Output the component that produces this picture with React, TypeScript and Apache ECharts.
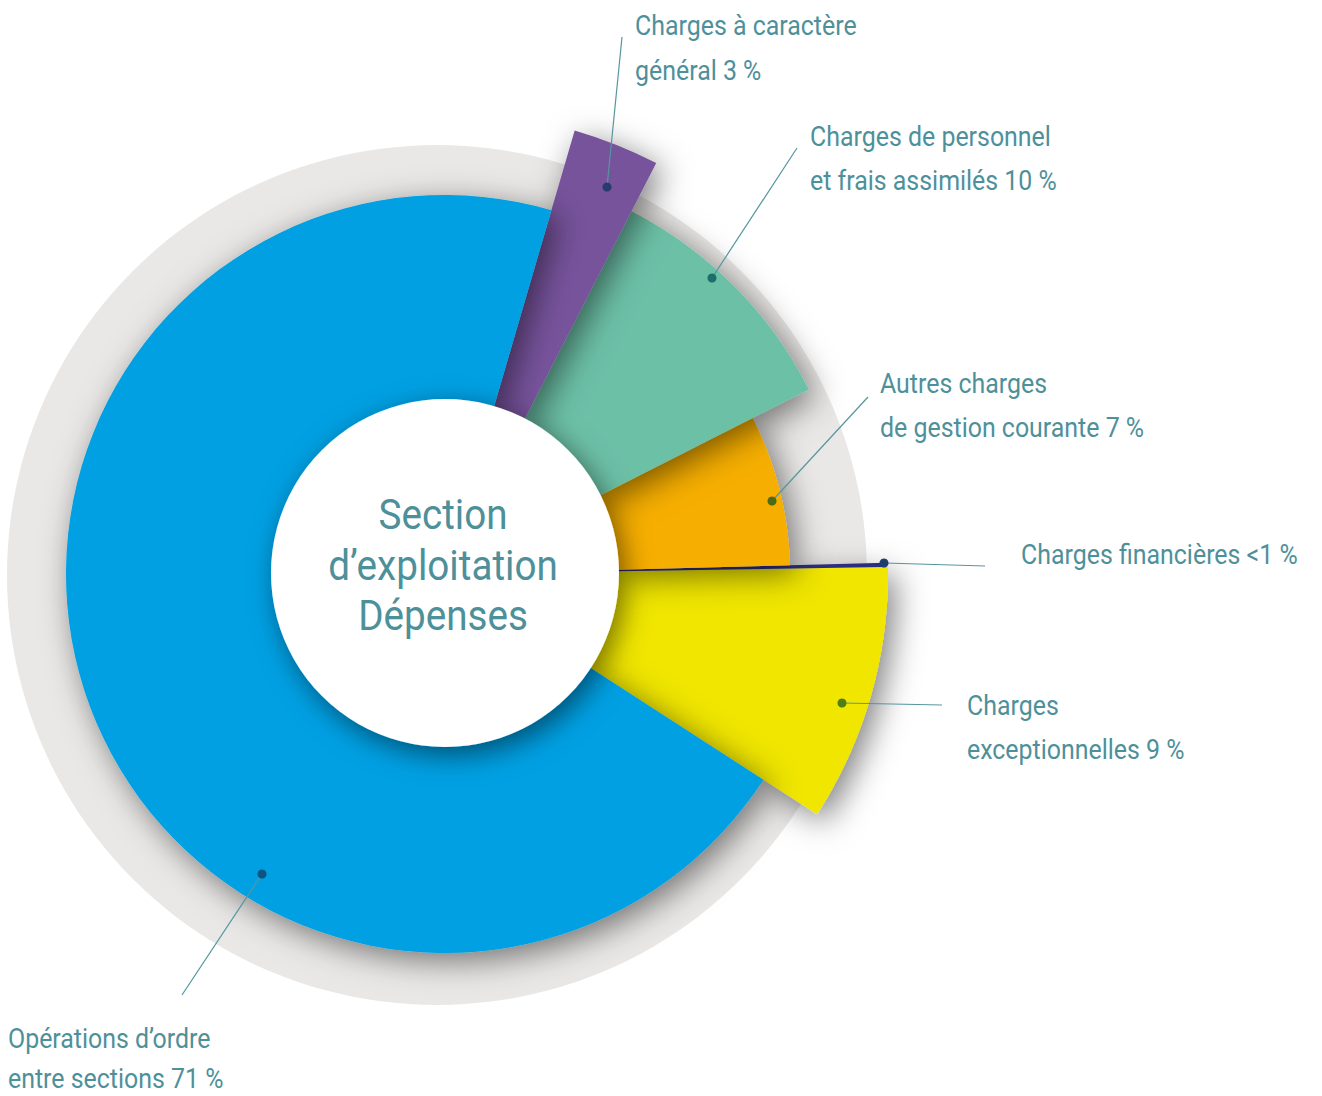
import React, { useEffect, useRef } from "react";
import * as echarts from "echarts";

// ---- data ----
const categories = [
  "Charges à caractère général",
  "Charges de personnel et frais assimilés",
  "Autres charges de gestion courante",
  "Charges financières",
  "Charges exceptionnelles",
  "Opérations d’ordre entre sections",
];
// share of the 360° drawn for each slice (percent)
const shares = [3.03, 9.97, 7.07, 0.15, 9.38, 70.4];
// label texts, as printed
const labelTexts = [
  ["Charges à caractère", "général 3 %"],
  ["Charges de personnel", "et frais assimilés 10 %"],
  ["Autres charges", "de gestion courante 7 %"],
  ["Charges financières <1 %"],
  ["Charges", "exceptionnelles 9 %"],
  ["Opérations d’ordre", "entre sections 71 %"],
];
const centerTitle = ["Section", "d’exploitation", "Dépenses"];

// ---- styles / layout ----
const colors = ["#77529c", "#6cc0a6", "#f6ae00", "#2b2d80", "#f0e600", "#00a0e3"];
const outerRadii = [462, 408, 345, 441, 443, 379];
const drawOrder = [4, 3, 2, 1, 0, 5];
const CENTER = [445, 574];
const INNER = 174;
const textColor = "#4e909a";
const lineColor = "#5596a0";
const dotColors = ["#283a6e", "#1f6e6a", "#4f6a10", "#1e3f6e", "#4f7f10", "#0d5480"];
// annotation layout: dot position, line end, text left, baselines
const labelDots = [[607, 187], [712, 278], [772, 501], [884, 563], [842, 703], [262, 874]];
const labelEnds = [[622, 37], [797, 148], [868, 397], [985, 566], [942, 705], [182, 995]];
const labelX = [635, 810, 880, 1021, 967, 8];
const labelBaselines = [[35, 80], [146, 190], [393, 437], [564], [715, 759], [1048, 1088]];

const FONT = "Roboto, 'Liberation Sans', sans-serif";
const LABEL_SIZE = 28;
const LABEL_SCALE = 0.89;
const TITLE_SIZE = 42;
const TITLE_SCALE = 0.92;

export default function App() {
  const ref = useRef<HTMLDivElement>(null);

  useEffect(() => {
    if (!ref.current) return;
    const chart = echarts.init(ref.current, undefined, { renderer: "svg" });

    const sliceSeries = drawOrder.map((i) => ({
      type: "pie",
      name: categories[i],
      center: CENTER,
      radius: [INNER - 2, outerRadii[i]],
      startAngle: 73.7,
      clockwise: true,
      silent: true,
      avoidLabelOverlap: false,
      label: { show: false },
      labelLine: { show: false },
      emphasis: { disabled: true },
      data: shares.map((v, j) => ({
        value: v,
        name: categories[j],
        itemStyle:
          j === i
            ? i === 3
              ? { color: colors[i], borderWidth: 0 }
              : {
                  color: colors[i],
                  shadowBlur: 32,
                  shadowColor: "rgba(0,0,0,0.5)",
                  shadowOffsetX: 7,
                  shadowOffsetY: 8,
                  borderWidth: 0,
                }
            : { color: "rgba(0,0,0,0)", borderWidth: 0 },
      })),
    }));

    const graphics: any[] = [];
    labelTexts.forEach((lines, i) => {
      graphics.push({
        type: "line",
        z: 100,
        shape: { x1: labelDots[i][0], y1: labelDots[i][1], x2: labelEnds[i][0], y2: labelEnds[i][1] },
        style: { stroke: lineColor, lineWidth: 1.2 },
      });
      graphics.push({
        type: "circle",
        z: 101,
        shape: { cx: labelDots[i][0], cy: labelDots[i][1], r: 4.5 },
        style: { fill: dotColors[i] },
      });
      lines.forEach((t, k) => {
        graphics.push({
          type: "text",
          z: 100,
          x: labelX[i],
          y: labelBaselines[i][k] - 0.342 * LABEL_SIZE,
          scaleX: LABEL_SCALE,
          style: {
            text: t,
            fill: textColor,
            font: `${LABEL_SIZE}px ${FONT}`,
            textAlign: "left",
            textVerticalAlign: "middle",
            verticalAlign: "middle",
          },
        });
      });
    });
    const titleCenters = [515, 566, 616];
    centerTitle.forEach((t, k) => {
      graphics.push({
        type: "text",
        z: 100,
        x: 443,
        y: titleCenters[k],
        scaleX: TITLE_SCALE,
        style: {
          text: t,
          fill: textColor,
          font: `${TITLE_SIZE}px ${FONT}`,
          textAlign: "center",
          textVerticalAlign: "middle",
          verticalAlign: "middle",
        },
      });
    });

    chart.setOption({
      animation: false,
      backgroundColor: "#ffffff",
      series: [
        {
          type: "pie",
          name: "fond",
          center: [437, 575],
          radius: [0, 430],
          silent: true,
          label: { show: false },
          labelLine: { show: false },
          emphasis: { disabled: true },
          data: [{ value: 1, name: "fond", itemStyle: { color: "#e9e8e7" } }],
        },
        ...sliceSeries,
        {
          type: "pie",
          name: "centre",
          center: [445, 573],
          radius: [0, INNER],
          silent: true,
          label: { show: false },
          labelLine: { show: false },
          emphasis: { disabled: true },
          data: [
            {
              value: 1,
              name: "centre",
              itemStyle: {
                color: "#ffffff",
                shadowBlur: 28,
                shadowColor: "rgba(0,0,0,0.5)",
                shadowOffsetX: 6,
                shadowOffsetY: 8,
              },
            },
          ],
        },
      ],
      graphic: { elements: graphics },
    });

    return () => chart.dispose();
  }, []);

  return (
    <div
      ref={ref}
      style={{ position: "fixed", left: 0, top: 0, width: 1322, height: 1096 }}
    />
  );
}
